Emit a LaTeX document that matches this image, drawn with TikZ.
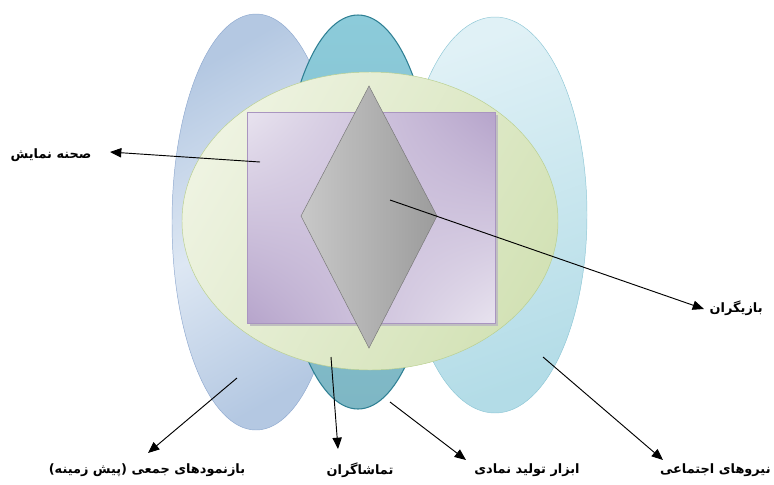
\documentclass[tikz,border=0pt]{standalone}
\usepackage{fontspec}
\newfontfamily\farsifont[Script=Arabic]{DejaVu Sans}
\TeXXeTstate=1
\usetikzlibrary{arrows.meta, shadings}

\definecolor{bgblueA}{HTML}{B4C8E2}
\definecolor{bgblueB}{HTML}{DDE7F3}
\definecolor{bgblueE}{HTML}{8FA9CF}
\definecolor{tealA}{HTML}{8CCBDA}
\definecolor{tealE}{HTML}{2E7F93}
\definecolor{cyanA}{HTML}{B3DCE7}
\definecolor{cyanB}{HTML}{E0F1F6}
\definecolor{cyanE}{HTML}{8EC7D6}
\definecolor{greenA}{HTML}{D3E2B6}
\definecolor{greenB}{HTML}{EEF3E1}
\definecolor{greenE}{HTML}{B9CF8E}
\definecolor{lilacA}{HTML}{B6A4CB}
\definecolor{lilacB}{HTML}{E8E3EF}
\definecolor{lilacE}{HTML}{A995C0}
\definecolor{greyA}{HTML}{9C9C9C}
\definecolor{greyB}{HTML}{C8C8C8}
\definecolor{greyE}{HTML}{777777}

\begin{document}
\begin{tikzpicture}[x=0.3mm,y=-0.3mm,
  lbl/.style={font=\farsifont\bfseries\fontsize{11}{13}\selectfont, inner sep=1pt},
  pointer/.style={-{Triangle[length=3.4mm,width=2.8mm]}, line width=0.8pt, black}]
\useasboundingbox (0,0) rectangle (774,484);

% outer ellipses
\shadedraw[draw=bgblueE, left color=bgblueA, right color=bgblueA, middle color=bgblueB, shading angle=30]
  (256,222) ellipse [x radius=84, y radius=208];
\shadedraw[draw=tealE, line width=0.9pt, top color=tealA, bottom color=tealA!90!black]
  (358,212) ellipse [x radius=76, y radius=197];
\shadedraw[draw=cyanE, left color=cyanB, right color=cyanA, shading angle=20]
  (495,215) ellipse [x radius=92, y radius=198];

% stage
\shadedraw[draw=greenE, left color=greenB, right color=greenA, shading angle=60]
  (370,221) ellipse [x radius=188, y radius=149];
\fill[black!25] (250,115) rectangle (498,326);
\shadedraw[draw=lilacE, upper left=lilacB, upper right=lilacA, lower left=lilacA, lower right=lilacB]
  (247,112) rectangle (495,323);
\shadedraw[draw=greyE, left color=greyB, right color=greyA]
  (369,86) -- (437,216) -- (369,348) -- (301,216) -- cycle;

% labels
\node[lbl] (stage) at (51,155) {\beginR صحنه نمایش\endR};
\node[lbl, anchor=east] (actors) at (764,308) {\beginR بازیگران\endR};
\node[lbl] (social) at (147,470) {\beginR بازنمودهای جمعی (پیش زمینه)\endR};
\node[lbl] (audience) at (360,470) {\beginR تماشاگران\endR};
\node[lbl] (tools) at (527,470) {\beginR ابزار تولید نمادی\endR};
\node[lbl, anchor=east] (forces) at (772,470) {\beginR نیروهای اجتماعی\endR};

% pointers
\coordinate (stageP) at (260,162);
\coordinate (stageT) at (110,152);
\coordinate (actorsP) at (390,200);
\coordinate (actorsT) at (704,309);
\coordinate (socialP) at (237,378);
\coordinate (socialT) at (148,453);
\coordinate (audienceP) at (331,357);
\coordinate (audienceT) at (338,449);
\coordinate (toolsP) at (390,402);
\coordinate (toolsT) at (466,460);
\coordinate (forcesP) at (543,357);
\coordinate (forcesT) at (663,460);

\draw[pointer] (stageP) -- (stageT);
\draw[pointer] (actorsP) -- (actorsT);
\draw[pointer] (socialP) -- (socialT);
\draw[pointer] (audienceP) -- (audienceT);
\draw[pointer] (toolsP) -- (toolsT);
\draw[pointer] (forcesP) -- (forcesT);
\end{tikzpicture}
\end{document}
